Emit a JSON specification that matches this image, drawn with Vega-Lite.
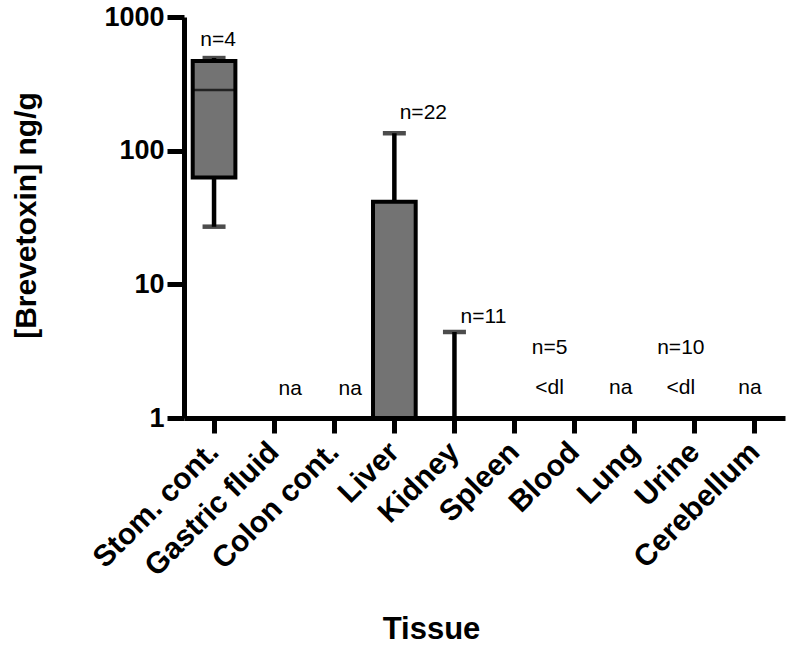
{
  "$schema": "https://vega.github.io/schema/vega-lite/v6.json",
  "width": 601,
  "height": 401,
  "autosize": "none",
  "padding": {"left": 184, "top": 17, "right": 4, "bottom": 231},
  "background": "white",
  "config": {"view": {"stroke": null}, "font": "Liberation Sans"},
  "datasets": {
    "stats": [
      {"tissue": "Stom. cont.", "box_lo": 63, "box_hi": 468, "median": 284, "whisk_lo": 27, "whisk_hi": 493},
      {"tissue": "Liver", "box_lo": 1, "box_hi": 41.5, "whisk_lo": 41.5, "whisk_hi": 135},
      {"tissue": "Kidney", "whisk_lo": 1, "whisk_hi": 4.4}
    ],
    "notes": [
      {"tissue": "Stom. cont.", "label": "n=4", "pos": 671},
      {"tissue": "Gastric fluid", "label": "na", "pos": 1.65},
      {"tissue": "Colon cont.", "label": "na", "pos": 1.65},
      {"tissue": "Liver", "label": "n=22", "pos": 191},
      {"tissue": "Kidney", "label": "n=11", "pos": 5.7},
      {"tissue": "Blood", "label": "n=5", "pos": 3.34},
      {"tissue": "Blood", "label": "<dl", "pos": 1.68},
      {"tissue": "Lung", "label": "na", "pos": 1.68},
      {"tissue": "Urine", "label": "n=10", "pos": 3.34},
      {"tissue": "Urine", "label": "<dl", "pos": 1.68},
      {"tissue": "Cerebellum", "label": "na", "pos": 1.68}
    ]
  },
  "encoding": {
    "x": {
      "field": "tissue",
      "type": "nominal",
      "sort": null,
      "scale": {
        "domain": ["Stom. cont.", "Gastric fluid", "Colon cont.", "Liver", "Kidney", "Spleen", "Blood", "Lung", "Urine", "Cerebellum"],
        "paddingInner": 0,
        "paddingOuter": 0
      },
      "axis": {
        "title": "Tissue",
        "titleFont": "Liberation Sans",
        "titleFontSize": 31,
        "titleFontWeight": "bold",
        "titleColor": "black",
        "titleBaseline": "alphabetic",
        "titleAlign": "center",
        "titleX": 247,
        "titleY": 220,
        "labelAngle": -45,
        "labelAlign": "right",
        "labelBaseline": "middle",
        "labelFont": "Liberation Sans",
        "labelFontSize": 30,
        "labelFontWeight": "bold",
        "labelColor": "black",
        "labelPadding": 14,
        "labelLimit": 400,
        "domainColor": "black",
        "domainWidth": 5,
        "tickColor": "black",
        "tickWidth": 5,
        "tickSize": 15,
        "grid": false
      }
    }
  },
  "layer": [
    {
      "data": {"name": "stats"},
      "transform": [{"filter": "isValid(datum.whisk_hi)"}],
      "mark": {"type": "rule", "color": "black", "strokeWidth": 4.5},
      "encoding": {
        "y": {
          "field": "whisk_lo",
          "type": "quantitative",
          "scale": {"type": "log", "domain": [1, 1000], "nice": false},
          "axis": {
            "title": "[Brevetoxin] ng/g",
            "titleFont": "Liberation Sans",
            "titleFontSize": 30,
            "titleFontWeight": "bold",
            "titleColor": "black",
            "titleAngle": -90,
            "titleAlign": "center",
            "titleBaseline": "middle",
            "titleX": -158,
            "titleY": 198,
            "values": [1, 10, 100, 1000],
            "format": "d",
            "labelFont": "Liberation Sans",
            "labelFontSize": 27,
            "labelFontWeight": "bold",
            "labelColor": "black",
            "labelPadding": 3,
            "domainColor": "black",
            "domainWidth": 5,
            "tickColor": "black",
            "tickWidth": 5,
            "tickSize": 17,
            "grid": false
          }
        },
        "y2": {"field": "whisk_hi"}
      }
    },
    {
      "data": {"name": "stats"},
      "transform": [{"filter": "isValid(datum.box_hi)"}],
      "mark": {"type": "bar", "fill": "#737373", "stroke": "black", "strokeWidth": 4, "width": {"band": 0.71}},
      "encoding": {
        "y": {"field": "box_lo", "type": "quantitative"},
        "y2": {"field": "box_hi"}
      }
    },
    {
      "data": {"name": "stats"},
      "transform": [{"filter": "isValid(datum.median)"}],
      "mark": {"type": "tick", "color": "black", "thickness": 2.5, "size": 41},
      "encoding": {
        "y": {"field": "median", "type": "quantitative"}
      }
    },
    {
      "data": {"name": "stats"},
      "transform": [{"filter": "isValid(datum.whisk_hi)"}],
      "mark": {"type": "tick", "color": "black", "thickness": 4.5, "size": 23},
      "encoding": {
        "y": {"field": "whisk_hi", "type": "quantitative"}
      }
    },
    {
      "data": {"name": "stats"},
      "transform": [{"filter": "datum.tissue === 'Stom. cont.'"}],
      "mark": {"type": "tick", "color": "black", "thickness": 4.5, "size": 23},
      "encoding": {
        "y": {"field": "whisk_lo", "type": "quantitative"}
      }
    },
    {
      "data": {"name": "notes"},
      "transform": [{"filter": "datum.tissue === 'Stom. cont.'"}],
      "mark": {"type": "text", "font": "Liberation Sans", "fontSize": 21, "color": "black", "baseline": "middle", "dx": 4},
      "encoding": {"y": {"field": "pos", "type": "quantitative"}, "text": {"field": "label"}}
    },
    {
      "data": {"name": "notes"},
      "transform": [{"filter": "datum.tissue === 'Gastric fluid' || datum.tissue === 'Colon cont.'"}],
      "mark": {"type": "text", "font": "Liberation Sans", "fontSize": 21, "color": "black", "baseline": "middle", "dx": 16},
      "encoding": {"y": {"field": "pos", "type": "quantitative"}, "text": {"field": "label"}}
    },
    {
      "data": {"name": "notes"},
      "transform": [{"filter": "datum.tissue === 'Liver' || datum.tissue === 'Kidney'"}],
      "mark": {"type": "text", "font": "Liberation Sans", "fontSize": 21, "color": "black", "baseline": "middle", "dx": 29},
      "encoding": {"y": {"field": "pos", "type": "quantitative"}, "text": {"field": "label"}}
    },
    {
      "data": {"name": "notes"},
      "transform": [{"filter": "datum.tissue === 'Blood'"}],
      "mark": {"type": "text", "font": "Liberation Sans", "fontSize": 21, "color": "black", "baseline": "middle", "dx": -25},
      "encoding": {"y": {"field": "pos", "type": "quantitative"}, "text": {"field": "label"}}
    },
    {
      "data": {"name": "notes"},
      "transform": [{"filter": "datum.tissue === 'Lung' || datum.tissue === 'Urine'"}],
      "mark": {"type": "text", "font": "Liberation Sans", "fontSize": 21, "color": "black", "baseline": "middle", "dx": -14},
      "encoding": {"y": {"field": "pos", "type": "quantitative"}, "text": {"field": "label"}}
    },
    {
      "data": {"name": "notes"},
      "transform": [{"filter": "datum.tissue === 'Cerebellum'"}],
      "mark": {"type": "text", "font": "Liberation Sans", "fontSize": 21, "color": "black", "baseline": "middle", "dx": -5},
      "encoding": {"y": {"field": "pos", "type": "quantitative"}, "text": {"field": "label"}}
    }
  ]
}
